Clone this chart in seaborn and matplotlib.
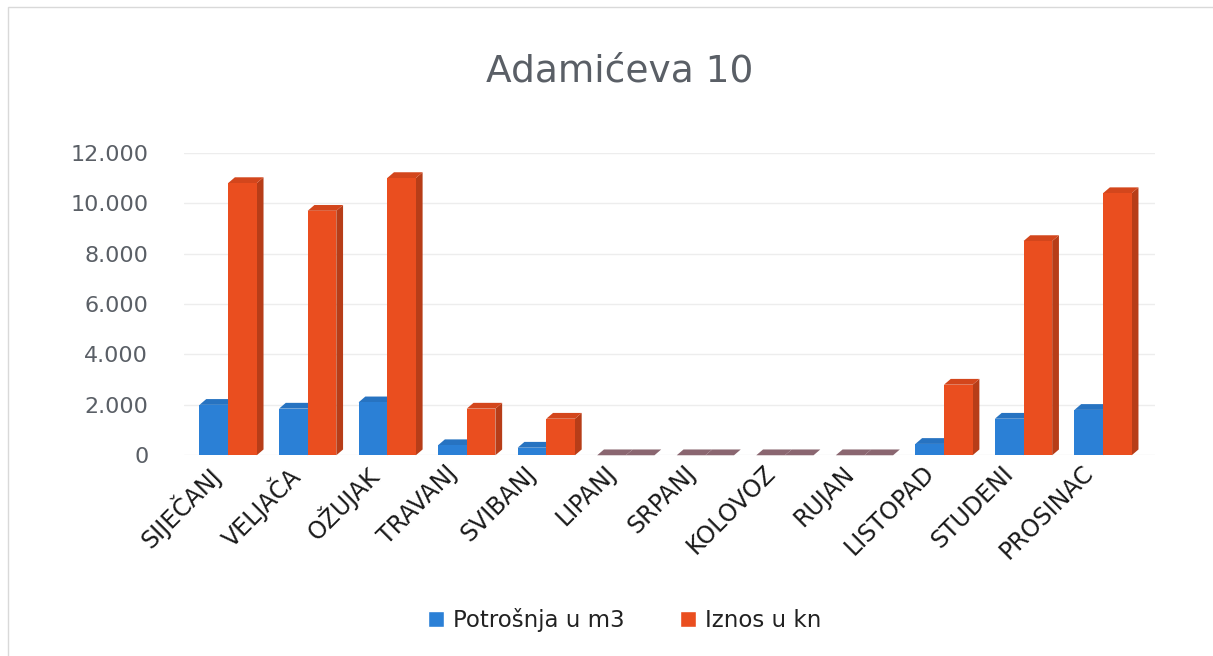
import numpy as np
import pandas as pd
import seaborn as sns
import matplotlib.pyplot as plt
import matplotlib.transforms as mtransforms
from matplotlib.patches import Polygon, Rectangle
from matplotlib.colors import to_rgb

# Data
months = ['SIJEČANJ', 'VELJAČA', 'OŽUJAK', 'TRAVANJ', 'SVIBANJ', 'LIPANJ',
          'SRPANJ', 'KOLOVOZ', 'RUJAN', 'LISTOPAD', 'STUDENI', 'PROSINAC']
potrosnja = [2000, 1850, 2100, 400, 300, 0, 0, 0, 0, 450, 1450, 1800]
iznos = [10800, 9700, 11000, 1850, 1450, 0, 0, 0, 0, 2800, 8500, 10400]
series = ['Potrošnja u m3', 'Iznos u kn']
colors = ['#2B80D6', '#EA4E1F']
title = 'Adamićeva 10'

df = pd.DataFrame({
    'mjesec': months * 2,
    'serija': [series[0]] * len(months) + [series[1]] * len(months),
    'vrijednost': potrosnja + iznos,
})

sns.set_style('white')
plt.rcParams['font.family'] = ['DejaVu Sans']

fig = plt.figure(figsize=(12.13, 6.56), dpi=100)
ax = fig.add_axes([0.152, 0.306, 0.80, 0.461])

sns.barplot(data=df, x='mjesec', y='vrijednost', hue='serija', order=months,
            hue_order=series, palette=colors, width=0.72, saturation=1,
            linewidth=0, ax=ax, legend=False)

# fake 3D: side and top faces built from the bars seaborn drew
dx, dy = 0.085, 230
bars = sorted(ax.patches, key=lambda p: p.get_x())
for p in bars:
    x0, w, h = p.get_x(), p.get_width(), p.get_height()
    base = np.array(to_rgb(p.get_facecolor()))
    if h <= 0:
        slab = Polygon([(x0, 0), (x0 + w, 0), (x0 + w + dx, dy), (x0 + dx, dy)],
                       closed=True, facecolor='#8A6670', edgecolor='none',
                       zorder=p.get_zorder() + 0.2, clip_on=False)
        ax.add_patch(slab)
        continue
    side = Polygon([(x0 + w, 0), (x0 + w + dx, dy), (x0 + w + dx, h + dy), (x0 + w, h)],
                   closed=True, facecolor=base * 0.78, edgecolor='none',
                   zorder=p.get_zorder() - 0.1, clip_on=False)
    top = Polygon([(x0, h), (x0 + w, h), (x0 + w + dx, h + dy), (x0 + dx, h + dy)],
                  closed=True, facecolor=np.clip(base * 0.9, 0, 1), edgecolor='none',
                  zorder=p.get_zorder() - 0.1, clip_on=False)
    ax.add_patch(side)
    ax.add_patch(top)

ax.set_ylim(0, 12000)
ax.set_xlim(-0.55, len(months) - 0.35)
ax.set_yticks(range(0, 12001, 2000))
ax.set_yticklabels([f'{v:,}'.replace(',', '.') for v in range(0, 12001, 2000)])
ax.yaxis.grid(True, color='#EDEDED', linewidth=1)
ax.set_axisbelow(True)
for s in ax.spines.values():
    s.set_visible(False)
ax.set_xlabel('')
ax.set_ylabel('')
ax.tick_params(axis='y', labelsize=16, colors='#5A5F66', length=0, pad=26)
ax.tick_params(axis='x', labelsize=17, colors='#1A1A1A', length=0, pad=2)
shift = mtransforms.ScaledTranslation(-0.22, -0.03, fig.dpi_scale_trans)
for lab in ax.get_xticklabels():
    lab.set_rotation(45)
    lab.set_ha('right')
    lab.set_rotation_mode('anchor')
    lab.set_transform(lab.get_transform() + shift)

fig.suptitle(title, x=0.511, y=0.918, fontsize=27, color='#5A5F66')

handles = [Rectangle((0, 0), 1, 1, facecolor=c) for c in colors]
fig.legend(handles, series, loc='center', bbox_to_anchor=(0.515, 0.055), ncol=2,
           frameon=False, fontsize=16.5, handlelength=0.7, handleheight=0.7,
           columnspacing=2.4, handletextpad=0.4, labelcolor='#222222')

fig.patches.append(Rectangle((0.007, -0.01), 1.1, 1.0, transform=fig.transFigure,
                             facecolor='none', edgecolor='#D9D9D9', linewidth=1))

fig.savefig('out.png', dpi=100)
